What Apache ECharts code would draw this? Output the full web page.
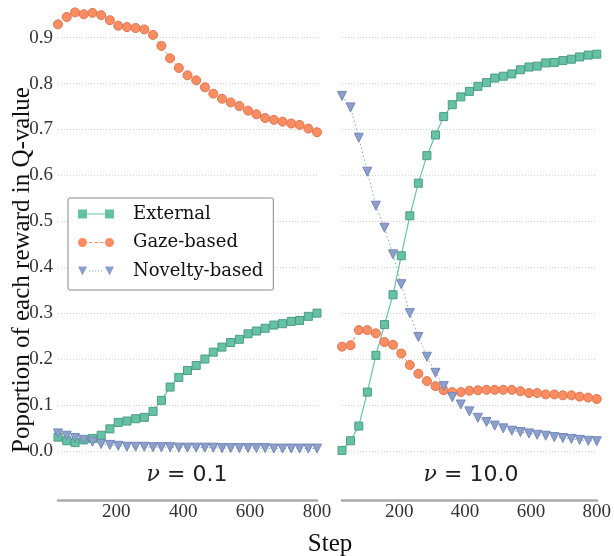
<!DOCTYPE html>
<html><head><meta charset="utf-8">
<script src="https://cdn.jsdelivr.net/npm/echarts@6/dist/echarts.min.js"></script>
<style>html,body{margin:0;padding:0;background:#fff}#c{width:614px;height:556px}</style>
</head><body><div id="c"></div>
<script>
const steps = [26, 52, 77, 103, 129, 155, 181, 206, 232, 258, 284, 310, 335, 361, 387, 413, 439, 465, 490, 516, 542, 568, 594, 619, 645, 671, 697, 723, 748, 774, 800];
const xTicks = [200, 400, 600, 800];
const yTicks = [0, 0.1, 0.2, 0.3, 0.4, 0.5, 0.6, 0.7, 0.8, 0.9];
const seriesNames = ['External', 'Gaze-based', 'Novelty-based'];
const panelTitles = ['0.1', '10.0'];

// nu = 0.1
const ext01 = [0.030,0.022,0.018,0.024,0.027,0.034,0.048,0.062,0.065,0.070,0.073,0.086,0.110,0.139,0.160,0.175,0.186,0.200,0.215,0.226,0.236,0.243,0.255,0.261,0.267,0.274,0.277,0.282,0.284,0.293,0.300];
const gaze01 = [0.929,0.945,0.955,0.951,0.954,0.949,0.938,0.926,0.923,0.921,0.918,0.906,0.882,0.855,0.834,0.818,0.807,0.792,0.778,0.767,0.759,0.751,0.741,0.733,0.725,0.721,0.717,0.713,0.710,0.702,0.694];
const nov01 = [0.038,0.033,0.028,0.024,0.020,0.015,0.013,0.011,0.009,0.009,0.009,0.008,0.008,0.008,0.007,0.007,0.007,0.007,0.007,0.006,0.006,0.006,0.006,0.006,0.006,0.005,0.005,0.005,0.005,0.005,0.005];
// nu = 10.0
const ext10 = [0.001,0.022,0.054,0.128,0.208,0.275,0.340,0.425,0.512,0.583,0.643,0.688,0.728,0.754,0.771,0.783,0.794,0.802,0.812,0.816,0.821,0.830,0.836,0.838,0.845,0.846,0.850,0.853,0.858,0.862,0.864];
const gaze10 = [0.227,0.230,0.263,0.263,0.256,0.237,0.231,0.212,0.187,0.168,0.152,0.141,0.132,0.128,0.128,0.131,0.132,0.133,0.133,0.133,0.133,0.130,0.126,0.126,0.123,0.123,0.121,0.121,0.118,0.116,0.113];
const nov10 = [0.773,0.748,0.682,0.608,0.534,0.486,0.428,0.363,0.300,0.248,0.205,0.170,0.141,0.117,0.101,0.086,0.072,0.063,0.055,0.049,0.044,0.041,0.038,0.035,0.033,0.030,0.028,0.026,0.024,0.022,0.021];

const SERIF = '"Liberation Serif", "DejaVu Serif", serif';
const styles = [
  {color:'#66c2a5', border:'#4c9c82', symbol:'rect', size:8, rotate:0, line:{type:'solid', width:1.2}},
  {color:'#fc8d62', border:'#df7650', symbol:'circle', size:9, rotate:0, line:{type:[4,3], width:1}},
  {color:'#8da0cb', border:'#7388b8', symbol:'triangle', size:9, rotate:180, line:{type:[1.5,2.5], width:1}}
];
const icons = [
  'path://M0,0h9v9h-9Z M27,0h9v9h-9Z M9,4h18v1h-18Z',
  'path://M0,4.5A4.5,4.5 0 1,1 9,4.5A4.5,4.5 0 1,1 0,4.5Z M27,4.5A4.5,4.5 0 1,1 36,4.5A4.5,4.5 0 1,1 27,4.5Z M11,4h3.5v1h-3.5Z M16.5,4h3.5v1h-3.5Z M22,4h3.5v1h-3.5Z',
  'path://M0,0h9l-4.5,9Z M27,0h9l-4.5,9Z M11,4h1.2v1h-1.2Z M14,4h1.2v1h-1.2Z M17,4h1.2v1h-1.2Z M20,4h1.2v1h-1.2Z M23,4h1.2v1h-1.2Z'
];

function mk(idx, vals, panel) {
  const s = styles[idx];
  return {
    name: seriesNames[idx], type: 'line', xAxisIndex: panel, yAxisIndex: panel,
    data: steps.map((x, i) => [x, vals[i]]),
    symbol: s.symbol, symbolSize: s.size, symbolRotate: s.rotate,
    showAllSymbol: true, animation: false,
    lineStyle: {color: s.color, width: s.line.width, type: s.line.type},
    itemStyle: {color: s.color, borderColor: s.border, borderWidth: 1, opacity: 1},
    emphasis: {disabled: true}
  };
}

function xAx(i) {
  return {
    type:'value', gridIndex:i, min: steps[0], max: steps[steps.length-1],
    axisLine:{show:true, onZero:false, lineStyle:{color:'#aaa', width:2.5}},
    axisTick:{show:true, length:2, lineStyle:{color:'#aaa'}, customValues: xTicks},
    axisLabel:{customValues: xTicks, color:'#333', fontFamily: SERIF, fontSize:19, margin:3},
    splitLine:{show:false}
  };
}
function yAx(i) {
  return {
    type:'value', gridIndex:i, min:-0.107, max:0.982,
    axisLine:{show:false},
    axisTick:{show:false, customValues: yTicks},
    axisLabel:{show: i===0, customValues: yTicks, color:'#333', fontFamily: SERIF, fontSize:19, margin:5,
      formatter: v => v.toFixed(1)},
    splitLine:{show:true, lineStyle:{color:'#cfcfcf', type:[1,2], width:1}}
  };
}

const chart = echarts.init(document.getElementById('c'), null, {renderer:'canvas'});
chart.setOption({
  animation: false,
  backgroundColor: '#fff',
  grid: [
    {left:58, width:259, top:0, height:500},
    {left:342, width:258, top:0, height:500}
  ],
  xAxis: [xAx(0), xAx(1)],
  yAxis: [yAx(0), yAx(1)],
  legend: {
    orient:'vertical', left:68, top:198,
    data: seriesNames.map((n, i) => ({name:n, icon: icons[i]})),
    itemWidth:36, itemHeight:9, itemGap:8.5,
    padding:[6, 10, 9, 10],
    borderColor:'#888', borderWidth:1, borderRadius:2,
    backgroundColor:'rgba(255,255,255,0.85)',
    itemStyle:{borderWidth:0},
    textStyle:{fontFamily:'"DejaVu Serif", serif', fontSize:18, color:'#111', lineHeight:20, padding:[0,0,0,14]},
    selectedMode:false
  },
  graphic: [
    {type:'text', x:187, y:475, style:{text:'{nu|ν} = ' + panelTitles[0], rich:{nu:{fontFamily:'"DejaVu Serif", serif', fontStyle:'italic', fontSize:22, fill:'#222'}}, fontFamily:'"DejaVu Sans", sans-serif', fontSize:22, fill:'#222', align:'center', verticalAlign:'middle'}},
    {type:'text', x:471, y:475, style:{text:'{nu|ν} = ' + panelTitles[1], rich:{nu:{fontFamily:'"DejaVu Serif", serif', fontStyle:'italic', fontSize:22, fill:'#222'}}, fontFamily:'"DejaVu Sans", sans-serif', fontSize:22, fill:'#222', align:'center', verticalAlign:'middle'}},
    {type:'text', x:22, y:270, rotation:Math.PI/2, style:{text:'Poportion of each reward in Q-value', font:'25px ' + SERIF, fill:'#111', align:'center', verticalAlign:'middle'}},
    {type:'text', x:330, y:544, style:{text:'Step', font:'25px ' + SERIF, fill:'#111', align:'center', verticalAlign:'middle'}}
  ],
  series: [
    mk(0, ext01, 0), mk(1, gaze01, 0), mk(2, nov01, 0),
    mk(0, ext10, 1), mk(1, gaze10, 1), mk(2, nov10, 1)
  ]
});
</script></body></html>
